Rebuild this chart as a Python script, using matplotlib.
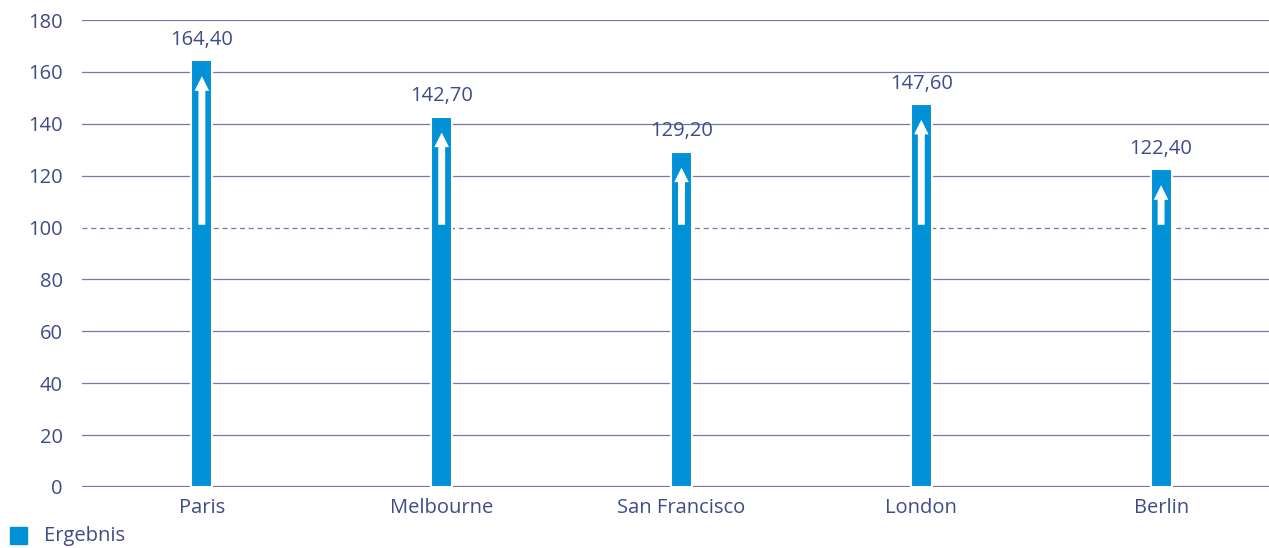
import matplotlib.pyplot as plt
from matplotlib.patches import FancyArrowPatch, Rectangle

# 数据
staedte = ["Paris", "Melbourne", "San Francisco", "London", "Berlin"]
werte = [164.40, 142.70, 129.20, 147.60, 122.40]
y_ticks = [0, 20, 40, 60, 80, 100, 120, 140, 160, 180]
basis = 100

blau = "#0091D6"
text_farbe = "#3E4B88"
gitter_farbe = "#7478A8"

plt.rcParams['font.family'] = ['Open Sans', 'DejaVu Sans']

fig = plt.figure(figsize=(12.69, 5.48), dpi=100)
ax = fig.add_axes([82 / 1269, 61 / 548, 1 - 82 / 1269, 467 / 548])

x = list(range(len(staedte)))
ax.bar(x, werte, width=0.088, color=blau, edgecolor="white", linewidth=1.5, zorder=3)

# Pfeile von 100 bis zum Wert
for i, v in zip(x, werte):
    pfeil = FancyArrowPatch((i, basis), (i, v - 5),
                            arrowstyle="simple,tail_width=0.5,head_width=1.05,head_length=1.05",
                            mutation_scale=10, color="white", lw=0, zorder=4)
    ax.add_patch(pfeil)
    ax.text(i, v + 4, f"{v:.2f}".replace(".", ","), ha="center", va="bottom",
            fontsize=14.5, color=text_farbe, zorder=5)

# Gitterlinien
for t in y_ticks:
    if t == basis:
        ax.axhline(t, color=gitter_farbe, lw=0.9, ls=(0, (4, 3)), zorder=1)
    elif t == 0:
        ax.axhline(t, color=gitter_farbe, lw=1.6, zorder=2)
    else:
        ax.axhline(t, color=gitter_farbe, lw=0.9, zorder=1)

ax.set_ylim(0, 180)
ax.set_xlim(-0.5, 4.45)
ax.set_yticks(y_ticks)
ax.set_yticklabels([str(t) for t in y_ticks])
ax.set_xticks(x)
ax.set_xticklabels(staedte)
ax.tick_params(axis="both", length=0, labelsize=14.5, labelcolor=text_farbe)
ax.tick_params(axis="y", pad=14)
ax.tick_params(axis="x", pad=8)
for s in ax.spines.values():
    s.set_visible(False)

# Legende
fig.patches.append(Rectangle((10 / 1269, 4 / 548), 17 / 1269, 17 / 548,
                             transform=fig.transFigure, color=blau, figure=fig))
fig.text(44 / 1269, 12 / 548, "Ergebnis", fontsize=14.5, color=text_farbe, va="center")

plt.savefig("out.png", dpi=100)
